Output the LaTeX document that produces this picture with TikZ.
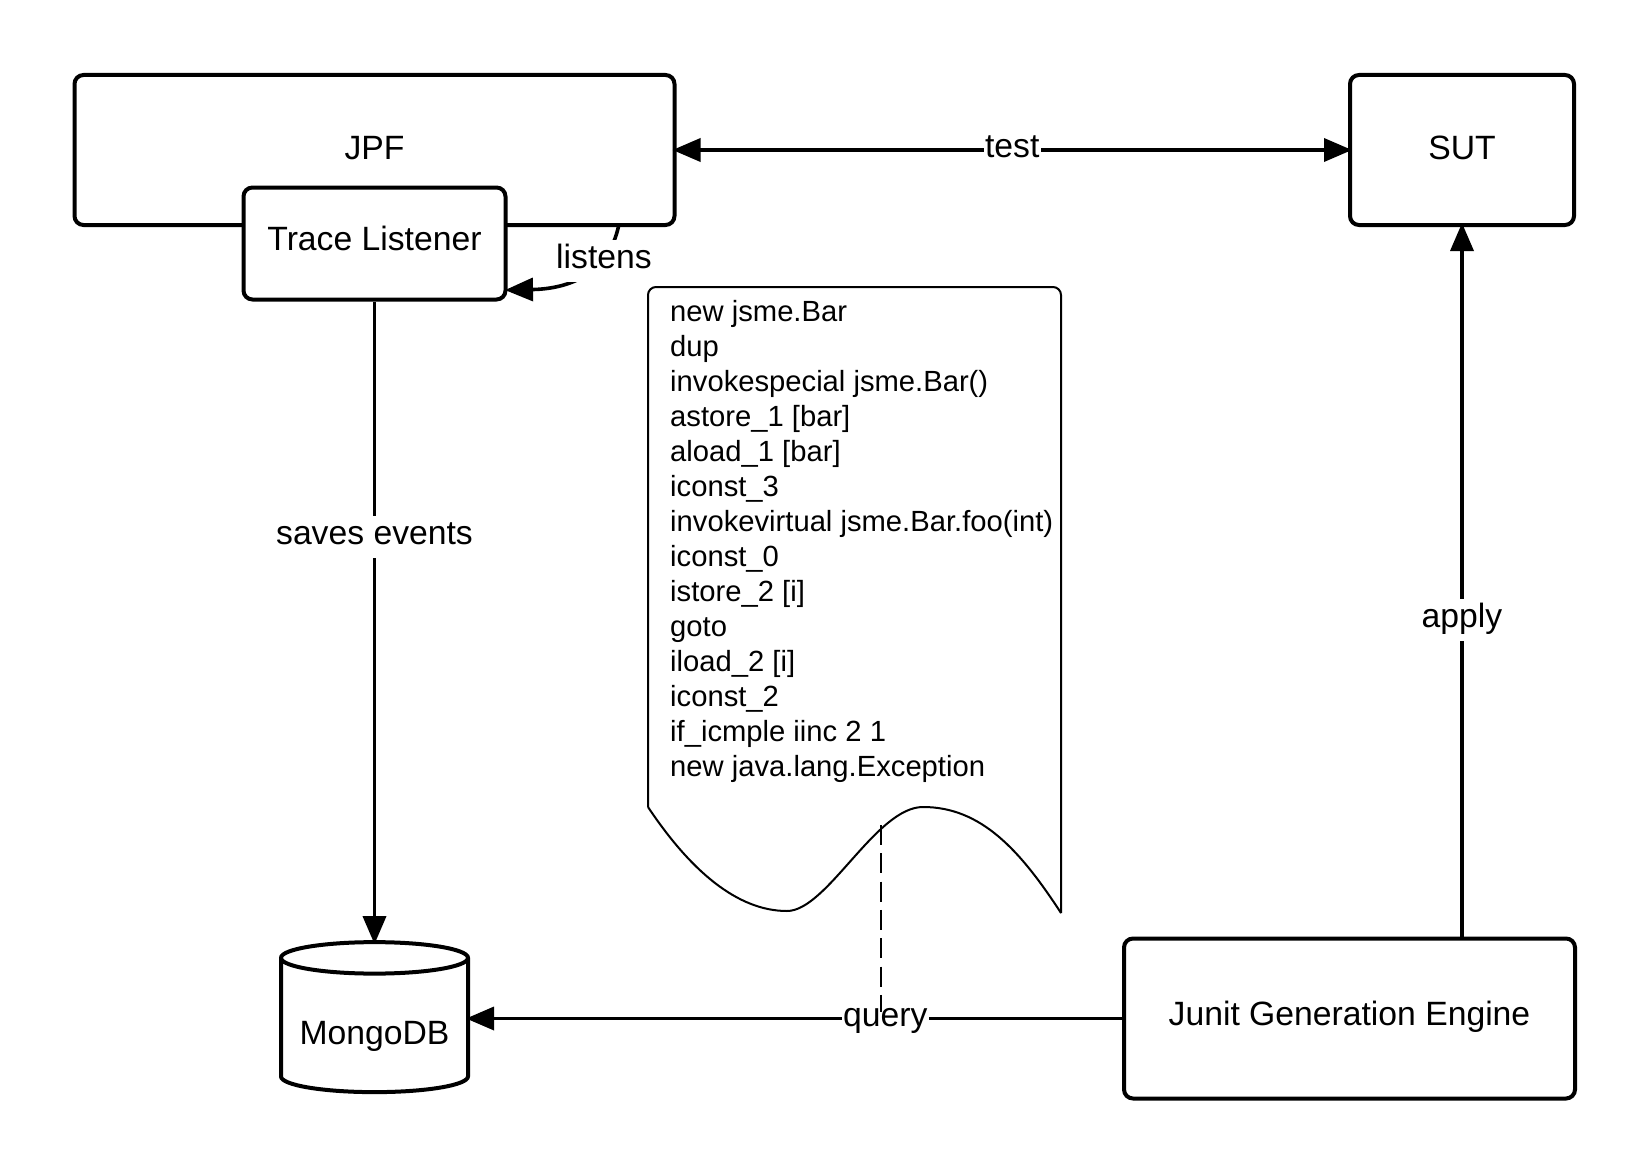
\documentclass[tikz,border=0pt]{standalone}
\usepackage{fontspec}
\setmainfont{Liberation Sans}
\usetikzlibrary{arrows.meta,shapes.geometric,positioning,calc}

\begin{document}
\begin{tikzpicture}[
    x=1pt, y=-1pt,
    block/.style={rectangle, draw, line width=4pt, fill=white, rounded corners=9pt, inner sep=0pt, font=\fontsize{33.7}{40}\selectfont, align=center, text height=28pt, text depth=9pt},
    arrow/.style={-{Triangle[length=28pt,width=23pt]}, line width=3.6pt, shorten >=-4pt},
    edgetext/.style={fill=white, inner xsep=1.5pt, inner ysep=0pt, text height=28.5pt, text depth=13.5pt, font=\fontsize{33.7}{40}\selectfont},
    doctext/.style={anchor=north west, inner sep=0pt, align=left, font=\fontsize{29.2}{35}\selectfont}
]
\useasboundingbox (0,0) rectangle (1650,1172);

% Boxes
\node[block, minimum width=600pt, minimum height=150pt] (jpf) at (374.5,150) {JPF};
\node[block, minimum width=262pt, minimum height=112pt, text depth=14pt] (listener) at (374.5,243.5) {Trace Listener};
\node[block, minimum width=224pt, minimum height=150pt] (sut) at (1462,150) {SUT};
\node[block, minimum width=451pt, minimum height=160pt, text depth=15pt] (junit) at (1349.5,1018.5) {Junit Generation Engine};

% Database
\node[cylinder, shape border rotate=90, shape aspect=0.21, draw, line width=4pt, fill=white, inner sep=0pt, minimum width=187pt, minimum height=150pt, text height=36pt, text depth=0pt, font=\fontsize{33.7}{40}\selectfont] (mongo) at (374.5,1026) {MongoDB};

% Listing
\draw[line width=2pt, rounded corners=8pt] (648,807) -- (648,287) -- (1061,287) -- (1061,913);
\draw[line width=2pt] (1061,913) .. controls (1020,850) and (981,807) .. (923,807)
    .. controls (876,807) and (827,911) .. (787,911)
    .. controls (737,911) and (690,870) .. (648,807);
\node[doctext] (listing) at (670,300) {new jsme.Bar\\dup\\invokespecial jsme.Bar()\\astore\_1 {[bar]}\\aload\_1 {[bar]}\\iconst\_3\\invokevirtual jsme.Bar.foo(int)\\iconst\_0\\istore\_2 {[i]}\\goto\\iload\_2 {[i]}\\iconst\_2\\if\_icmple iinc 2 1\\new java.lang.Exception};

% Arrows
\coordinate (listenfrom) at (619,224);
\coordinate (listento) at (509,290);
\coordinate (dashfrom) at (881,825);
\draw[{Triangle[length=28pt,width=23pt]}-{Triangle[length=28pt,width=23pt]}, line width=3.6pt, shorten >=-4pt, shorten <=-4pt] (jpf.east) -- node[edgetext, pos=0.5] (test) {test} (sut.west);
\draw[arrow] (listenfrom) .. controls (608,280) and (560,289) .. (listento);
\node[edgetext] (listens) at (604,261) {listens};
\draw[arrow] (listener.south) -- node[edgetext, pos=0.368] (saves) {saves events} (mongo.north);
\draw[arrow] (junit.north -| sut.south) -- node[edgetext, pos=0.446] (apply) {apply} (sut.south);
\draw[arrow] (junit.west) -- node[edgetext, pos=0.363] (query) {query} (mongo.east |- junit.west);
\draw[line width=2pt, dash pattern=on 20pt off 8.3pt, shorten >=7pt] (dashfrom) -- (dashfrom |- query.center);

\end{tikzpicture}
\end{document}
